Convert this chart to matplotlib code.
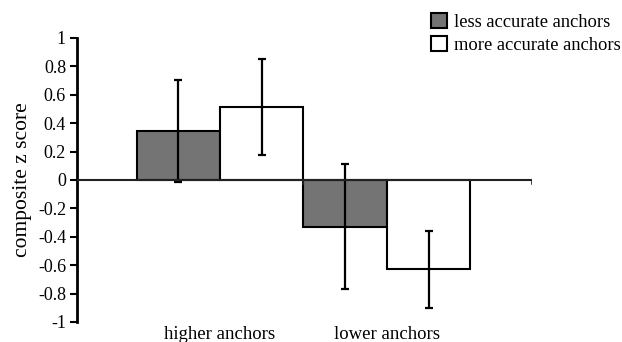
import numpy as np
import matplotlib
matplotlib.use("Agg")
import matplotlib.pyplot as plt

plt.rcParams['font.family'] = 'Liberation Serif'
plt.rcParams['font.size'] = 13

groups = ["higher anchors", "lower anchors"]
series = ["less accurate anchors", "more accurate anchors"]
less_acc = [0.345, -0.33]
less_err = [0.36, 0.44]
more_acc = [0.515, -0.63]
more_err = [0.34, 0.27]
yticks = [-1, -0.8, -0.6, -0.4, -0.2, 0, 0.2, 0.4, 0.6, 0.8, 1]
ytick_labels = ["-1", "-0.8", "-0.6", "-0.4", "-0.2", "0", "0.2", "0.4", "0.6", "0.8", "1"]

fig = plt.figure(figsize=(6.22, 3.42), dpi=100)
ax = fig.add_axes([0.124, 0.0585, 0.731, 0.8305])

x = np.arange(len(groups))
w = 0.5
ax.bar(x - w / 2, less_acc, w, color="#747474", edgecolor="black", linewidth=1.5,
       label=series[0], zorder=2)
ax.bar(x + w / 2, more_acc, w, color="white", edgecolor="black", linewidth=1.5,
       label=series[1], zorder=2)
ax.errorbar(x - w / 2, less_acc, yerr=less_err, fmt="none", ecolor="black",
            elinewidth=1.6, capsize=3, capthick=1.6, zorder=3)
ax.errorbar(x + w / 2, more_acc, yerr=more_err, fmt="none", ecolor="black",
            elinewidth=1.6, capsize=3, capthick=1.6, zorder=3)

# zero line acts as the category axis
xmin, xmax = -0.856, 1.868
ax.plot([xmin, xmax], [0, 0], color="#222222", lw=1.5, zorder=4)
for xb in [0.5, xmax]:
    ax.plot([xb, xb], [0, -0.03], color="#222222", lw=1.2, zorder=4)

ax.set_xlim(xmin, xmax)
ax.set_ylim(-1, 1)
ax.set_yticks(yticks)
ax.set_yticklabels(ytick_labels)
ax.set_xticks(x)
ax.set_xticklabels(groups, fontsize=13.5)
ax.tick_params(axis="x", length=0, pad=3)
ax.tick_params(axis="y", direction="out", length=5, width=1.5, pad=3)
for s in ["top", "right", "bottom"]:
    ax.spines[s].set_visible(False)
ax.spines["left"].set_linewidth(2)
ax.set_ylabel("composite z score", fontsize=15.5, labelpad=4)

fig.legend(loc="upper right", bbox_to_anchor=(1.019, 1.0), frameon=False,
           fontsize=13.3, handlelength=0.85, handleheight=0.85, handletextpad=0.4,
           labelspacing=0.3, borderaxespad=0.3)

fig.savefig("out.png", dpi=100)
